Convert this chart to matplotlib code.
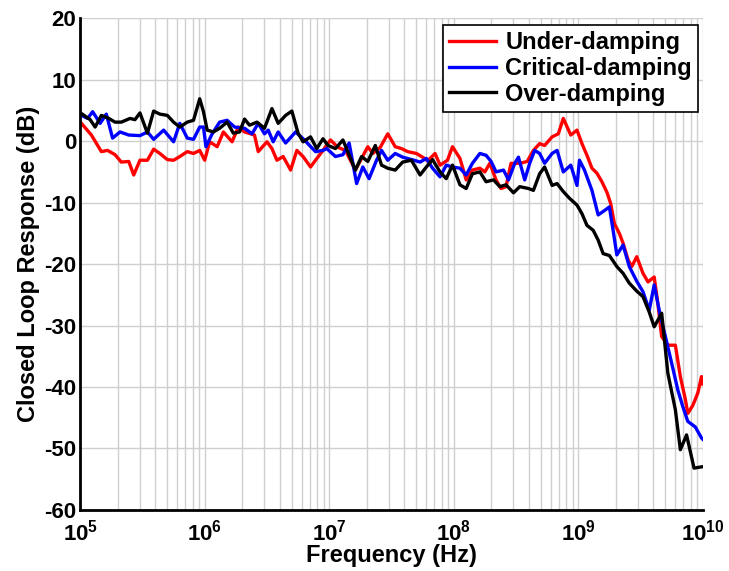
import numpy as np
import matplotlib
matplotlib.use("Agg")
import matplotlib.pyplot as plt
from matplotlib.ticker import FixedLocator, FixedFormatter, LogLocator, NullFormatter

plt.rcParams['font.family'] = ['Liberation Sans', 'DejaVu Sans']
plt.rcParams['font.weight'] = 'bold'
plt.rcParams['mathtext.fontset'] = 'custom'
plt.rcParams['mathtext.rm'] = 'Liberation Sans:bold'
plt.rcParams['mathtext.bf'] = 'Liberation Sans:bold'
plt.rcParams['mathtext.default'] = 'bf'

series_names = ["Under-damping", "Critical-damping", "Over-damping"]
series_colors = ["#ff0000", "#0000ff", "#000000"]

under_logf = [5.01, 5.09, 5.17, 5.22, 5.28, 5.33, 5.39, 5.43, 5.48, 5.54, 5.59, 5.64, 5.70, 5.75, 5.80,
              5.86, 5.91, 5.96, 6.00, 6.04, 6.10, 6.15, 6.22, 6.27, 6.32, 6.40, 6.43, 6.50, 6.54, 6.58,
              6.63, 6.69, 6.74, 6.79, 6.85, 6.89, 6.95, 7.01, 7.07, 7.13, 7.21, 7.26, 7.31, 7.35, 7.41,
              7.47, 7.53, 7.58, 7.63, 7.70, 7.75, 7.79, 7.85, 7.89, 7.95, 7.99, 8.05, 8.10, 8.15, 8.21,
              8.25, 8.29, 8.34, 8.38, 8.42, 8.46, 8.53, 8.59, 8.64, 8.69, 8.73, 8.79, 8.84, 8.88, 8.94,
              8.99, 9.03, 9.07, 9.11, 9.15, 9.19, 9.23, 9.26, 9.29, 9.33, 9.36, 9.40, 9.43, 9.47, 9.52,
              9.56, 9.61, 9.64, 9.67, 9.72, 9.78, 9.82, 9.86, 9.88, 9.92, 9.96, 9.99, 10.0]
under_db = [2.9, 1.0, -1.7, -1.5, -2.2, -3.4, -3.3, -5.5, -3.1, -3.1, -1.3, -2.0, -3.0, -3.1, -2.5,
            -1.7, -2.0, -1.5, -3.1, -0.1, -0.9, 1.5, -0.1, 2.3, 1.5, 1.0, -1.7, -0.1, -1.2, -3.1,
            -2.5, -4.7, -1.5, -2.5, -4.2, -3.1, -1.5, 0.2, -1.0, -1.5, -4.7, -2.8, -0.9, -2.0, -1.0,
            1.2, -0.9, -1.2, -1.7, -2.0, -2.6, -3.2, -2.0, -3.9, -3.1, -0.9, -2.8, -6.3, -4.7, -4.4,
            -5.0, -3.6, -6.3, -7.7, -7.4, -3.6, -3.6, -3.3, -1.5, -0.4, -0.7, 0.7, 1.2, 3.7, 1.0,
            1.8, -0.4, -2.3, -4.4, -5.2, -6.6, -8.3, -10.1, -13.4, -15.0, -16.6, -19.3, -20.4, -18.8, -21.5,
            -22.9, -22.1, -26.5, -31.8, -33.2, -33.2, -38.3, -42.0, -44.3, -43.0, -41.0, -38.3, -39.5]

critical_logf = [5.01, 5.06, 5.10, 5.16, 5.21, 5.26, 5.32, 5.39, 5.48, 5.54, 5.59, 5.67, 5.75, 5.80, 5.86,
                 5.91, 5.96, 5.99, 6.01, 6.06, 6.12, 6.18, 6.24, 6.32, 6.38, 6.43, 6.48, 6.51, 6.55, 6.59,
                 6.65, 6.73, 6.79, 6.89, 6.95, 6.98, 7.05, 7.11, 7.16, 7.22, 7.27, 7.32, 7.38, 7.42, 7.47,
                 7.53, 7.59, 7.68, 7.73, 7.78, 7.83, 7.89, 7.94, 7.99, 8.05, 8.10, 8.15, 8.21, 8.26, 8.30,
                 8.34, 8.40, 8.44, 8.49, 8.52, 8.57, 8.61, 8.65, 8.69, 8.73, 8.79, 8.83, 8.88, 8.94, 8.99,
                 9.01, 9.05, 9.11, 9.16, 9.21, 9.25, 9.28, 9.31, 9.36, 9.41, 9.47, 9.52, 9.57, 9.61, 9.66,
                 9.70, 9.75, 9.80, 9.84, 9.88, 9.94, 9.99, 10.0]
critical_db = [4.2, 3.7, 4.8, 2.9, 4.4, 0.5, 1.5, 1.0, 0.9, 1.5, 0.3, 1.8, -0.1, 2.9, 0.5,
               0.3, 2.3, 2.3, -0.9, 1.2, 3.1, 3.4, 2.3, 2.1, 1.2, 2.9, 1.2, 1.8, -0.1, 1.5,
               -0.3, 1.5, 0.4, -1.7, -1.5, -1.2, -2.5, -2.2, -0.3, -6.9, -4.2, -6.1, -3.1, -1.5, -3.1,
               -2.0, -2.6, -3.1, -3.4, -2.8, -4.4, -5.8, -3.9, -4.2, -4.4, -5.5, -3.6, -2.0, -2.3, -3.3,
               -5.0, -4.7, -6.3, -3.6, -2.6, -6.3, -3.6, -1.5, -2.0, -3.6, -2.0, -1.5, -5.0, -3.9, -7.2,
               -3.1, -4.7, -8.0, -12.0, -11.3, -10.7, -14.5, -18.5, -16.9, -20.4, -22.8, -24.5, -27.5, -23.4, -28.5,
               -31.8, -36.1, -40.5, -43.2, -45.6, -46.5, -48.3, -48.5]

over_logf = [5.01, 5.08, 5.12, 5.17, 5.23, 5.28, 5.33, 5.40, 5.44, 5.48, 5.54, 5.59, 5.64, 5.70, 5.75,
             5.80, 5.86, 5.91, 5.96, 5.99, 6.02, 6.07, 6.12, 6.18, 6.23, 6.28, 6.32, 6.36, 6.42, 6.48,
             6.54, 6.59, 6.65, 6.70, 6.75, 6.79, 6.85, 6.90, 6.95, 6.99, 7.05, 7.11, 7.21, 7.26, 7.31,
             7.37, 7.42, 7.47, 7.53, 7.59, 7.66, 7.73, 7.78, 7.83, 7.89, 7.94, 7.99, 8.05, 8.10, 8.15,
             8.21, 8.26, 8.32, 8.37, 8.42, 8.48, 8.53, 8.60, 8.64, 8.69, 8.73, 8.79, 8.83, 8.88, 8.93,
             8.99, 9.03, 9.07, 9.12, 9.16, 9.20, 9.25, 9.31, 9.36, 9.41, 9.47, 9.52, 9.57, 9.61, 9.67,
             9.72, 9.78, 9.82, 9.87, 9.93, 9.99]
over_db = [4.5, 3.5, 2.3, 4.2, 3.7, 3.1, 3.1, 3.7, 3.5, 4.6, 1.3, 4.9, 4.4, 4.2, 3.1,
           2.3, 3.1, 3.4, 6.9, 4.8, 1.8, 1.5, 2.1, 3.1, 1.3, 1.5, 3.6, 2.6, 3.1, 2.1,
           5.3, 2.9, 4.2, 4.9, 1.3, -0.1, 0.7, -1.2, 0.4, -0.7, -1.2, 0.2, -4.7, -2.5, -3.3,
           -0.7, -3.9, -4.4, -4.7, -3.4, -3.1, -5.5, -4.2, -3.0, -5.0, -6.1, -3.9, -7.1, -7.7, -5.3,
           -5.0, -6.6, -6.3, -7.4, -7.1, -8.4, -7.4, -7.7, -8.0, -5.3, -4.2, -7.2, -6.9, -8.2, -9.3,
           -10.4, -11.8, -13.7, -14.5, -16.1, -18.3, -18.6, -20.4, -21.5, -23.1, -24.4, -25.3, -27.8, -30.2, -28.0,
           -37.8, -43.7, -50.2, -47.8, -53.2, -53.0]

x_tick_exponents = [5, 6, 7, 8, 9, 10]
x_tick_labels = [r'$\mathbf{10^{%d}}$' % e for e in x_tick_exponents]
y_ticks = [-60, -50, -40, -30, -20, -10, 0, 10, 20]

fig = plt.figure(figsize=(7.29, 5.71), dpi=100)
ax = fig.add_axes([0.110, 0.107, 0.854, 0.861])

all_logf = [under_logf, critical_logf, over_logf]
all_db = [under_db, critical_db, over_db]
for lf, db, name, col in zip(all_logf, all_db, series_names, series_colors):
    ax.plot(10.0 ** np.array(lf), db, color=col, lw=2.4, label=name)

ax.set_xscale('log')
ax.set_xlim(1e5, 1e10)
ax.set_ylim(-60, 20)
ax.xaxis.set_major_locator(FixedLocator([10.0 ** e for e in x_tick_exponents]))
ax.xaxis.set_major_formatter(FixedFormatter(x_tick_labels))
ax.xaxis.set_minor_locator(LogLocator(base=10, subs=np.arange(2, 10), numticks=100))
ax.xaxis.set_minor_formatter(NullFormatter())
ax.set_yticks(y_ticks)
ax.set_yticklabels([str(v) for v in y_ticks])

ax.grid(True, which='major', color='#cfcfcf', lw=1.0)
ax.grid(True, which='minor', axis='x', color='#cfcfcf', lw=1.0)
ax.set_axisbelow(True)

for s in ['top', 'right']:
    ax.spines[s].set_visible(False)
for s in ['left', 'bottom']:
    ax.spines[s].set_linewidth(2.0)
ax.tick_params(axis='y', which='both', direction='in', length=0, labelsize=16, pad=3)
ax.tick_params(axis='x', which='both', direction='in', length=0, labelsize=16, pad=7)
for lab in ax.get_yticklabels():
    lab.set_fontweight('bold')

ax.set_xlabel('Frequency (Hz)', fontsize=17, fontweight='bold', labelpad=-1)
ax.set_ylabel('Closed Loop Response (dB)', fontsize=17, fontweight='bold', labelpad=3)

leg = ax.legend(loc='upper right', bbox_to_anchor=(0.992, 0.986), fontsize=17, frameon=True,
                fancybox=False, edgecolor='black', framealpha=1.0, handlelength=2.0,
                borderpad=0.25, labelspacing=0.12, handletextpad=0.4, borderaxespad=0.0)
leg.get_frame().set_linewidth(1.2)
for t in leg.get_texts():
    t.set_fontweight('bold')

fig.savefig('out.png', dpi=100)
